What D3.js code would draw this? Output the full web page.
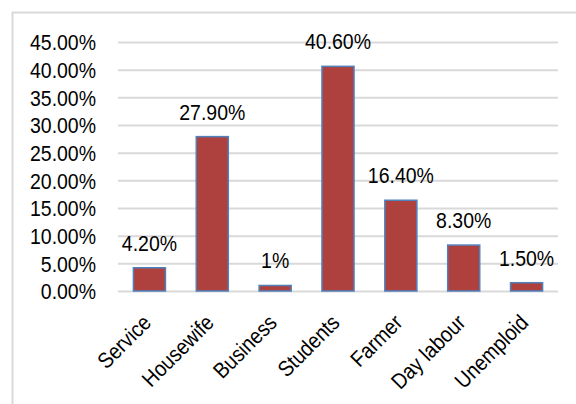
<!DOCTYPE html>
<html><head><meta charset="utf-8">
<script src="https://cdn.jsdelivr.net/npm/d3@7"></script>
<style>body{margin:0;background:#fff}text{font-family:"Liberation Sans",Arial,sans-serif;fill:#000}</style>
</head><body><svg id="c" width="576" height="404"></svg>
<script>
const categories = ["Service","Housewife","Business","Students","Farmer","Day labour","Unemploid"];
const values = [4.2, 27.9, 1, 40.6, 16.4, 8.3, 1.5];
const valueLabels = ["4.20%","27.90%","1%","40.60%","16.40%","8.30%","1.50%"];
const yTicks = [0,5,10,15,20,25,30,35,40,45];
const SX = 0.885;

const svg = d3.select("#c");
svg.append("rect").attr("x",12.5).attr("y",12.5).attr("width",600).attr("height",500)
  .attr("fill","none").attr("stroke","#d9d9d9").attr("stroke-width",2);

const x = d3.scaleBand().domain(categories).range([118,558]).paddingInner(0.49).paddingOuter(0.245);
const y = d3.scaleLinear().domain([0,45]).range([291,42]);

const yAxis = svg.append("g").attr("transform","translate(118,0)")
  .call(d3.axisLeft(y).tickValues(yTicks).tickSize(-440).tickFormat(d=>d.toFixed(2)+"%"));
yAxis.select(".domain").remove();
yAxis.selectAll(".tick line").attr("stroke","#d9d9d9").attr("stroke-width",2);
yAxis.selectAll(".tick text").attr("x",0).attr("font-size",22).attr("dy","0.36em")
  .attr("transform",`translate(-22,0) scale(${SX},1)`);

svg.selectAll(".bar").data(values).join("rect")
  .attr("x",(d,i)=>x(categories[i])).attr("width",x.bandwidth())
  .attr("y",d=>y(d)).attr("height",d=>y(0)-y(d))
  .attr("fill","#ae413e").attr("stroke","#4f81bd").attr("stroke-width",1.5);

svg.selectAll(".vl").data(values).join("text")
  .attr("transform",(d,i)=>`translate(${x(categories[i])+x.bandwidth()/2},${y(d)-17}) scale(${SX},1)`)
  .attr("text-anchor","middle").attr("font-size",22).text((d,i)=>valueLabels[i]);

const xAxis = svg.append("g").attr("transform","translate(0,291)")
  .call(d3.axisBottom(x).tickSize(0).tickFormat(d=>d));
xAxis.select(".domain").remove();
xAxis.selectAll(".tick text").attr("font-size",22).attr("text-anchor","end")
  .attr("y",0).attr("dy",0)
  .attr("transform",`translate(3,33) rotate(-45) scale(${SX},1)`);
</script></body></html>
